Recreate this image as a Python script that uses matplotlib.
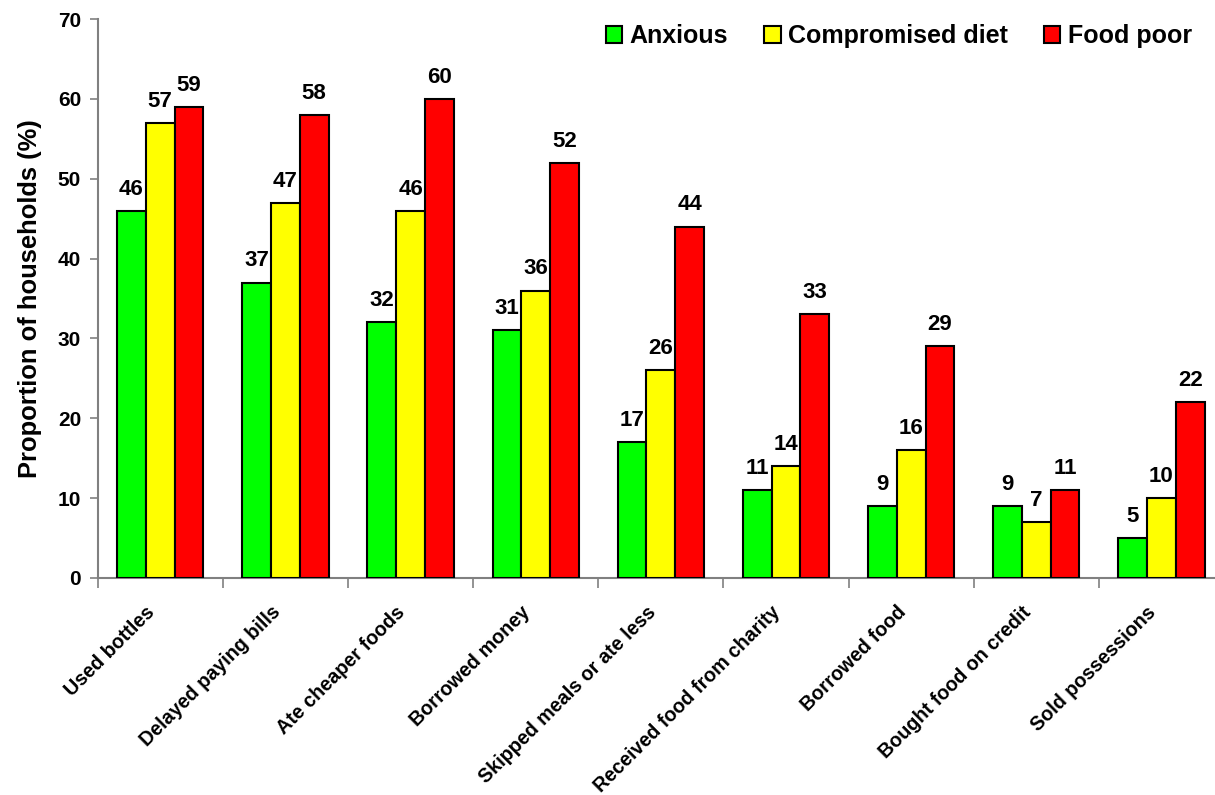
import numpy as np
import matplotlib.pyplot as plt
from matplotlib.transforms import ScaledTranslation

plt.rcParams['font.family'] = ['Liberation Sans', 'DejaVu Sans']
plt.rcParams['font.weight'] = 'bold'

# coping strategies, share of households per food security group (%)
strategies = ["Used bottles", "Delayed paying bills", "Ate cheaper foods",
              "Borrowed money", "Skipped meals or ate less",
              "Received food from charity", "Borrowed food",
              "Bought food on credit", "Sold possessions"]
anxious = [46, 37, 32, 31, 17, 11, 9, 9, 5]
compromised = [57, 47, 46, 36, 26, 14, 16, 7, 10]
food_poor = [59, 58, 60, 52, 44, 33, 29, 11, 22]

series = [("Anxious", anxious, "#00ff00"),
          ("Compromised diet", compromised, "#ffff00"),
          ("Food poor", food_poor, "#ff0000")]

fig = plt.figure(figsize=(12.15, 7.95), dpi=100)
ax = fig.add_axes([0.0804, 0.273, 0.927, 0.703])

x = np.arange(len(strategies)) + 0.5
w = 0.23
for k, (name, vals, col) in enumerate(series):
    pos = x + (k - 1) * w
    ax.bar(pos, vals, width=w, color=col, edgecolor="black",
           linewidth=1.5, label=name, zorder=3)
    for xi, v in zip(pos, vals):
        ax.text(xi, v + 1.4, str(v), ha="center", va="bottom",
                fontsize=16, fontweight="bold")

ax.set_xlim(0, len(strategies))
ax.set_ylim(0, 70)
ax.set_yticks(range(0, 71, 10))
ax.tick_params(axis="y", labelsize=15, length=6, color="#808080", width=1.2,
               pad=6)

# category boundaries get the tick marks, names sit under the groups
ax.set_xticks(np.arange(len(strategies) + 1))
ax.set_xticklabels([])
ax.tick_params(axis="x", length=7, color="#808080", width=1.2, direction="out")
ax.set_xticks(x, minor=True)
ax.set_xticklabels(strategies, minor=True, rotation=45, ha="right",
                   rotation_mode="anchor", fontsize=14.2, fontweight="bold")
ax.tick_params(axis="x", which="minor", length=0, pad=12)
shift = ScaledTranslation(-0.15, -0.08, fig.dpi_scale_trans)
for lab in ax.get_xticklabels(minor=True):
    lab.set_transform(lab.get_transform() + shift)

for s in ["top", "right"]:
    ax.spines[s].set_visible(False)
for s in ["left", "bottom"]:
    ax.spines[s].set_color("#808080")
    ax.spines[s].set_linewidth(1.5)

ax.set_ylabel("Proportion of households (%)", fontsize=18.4, fontweight="bold",
              labelpad=11)

ax.legend(loc="upper right", bbox_to_anchor=(0.9716, 0.991), ncol=3,
          frameon=False, fontsize=18, handlelength=0.65, handleheight=0.65,
          handletextpad=0.3, columnspacing=1.45, borderpad=0,
          borderaxespad=0)

plt.savefig("out.png", dpi=100)
